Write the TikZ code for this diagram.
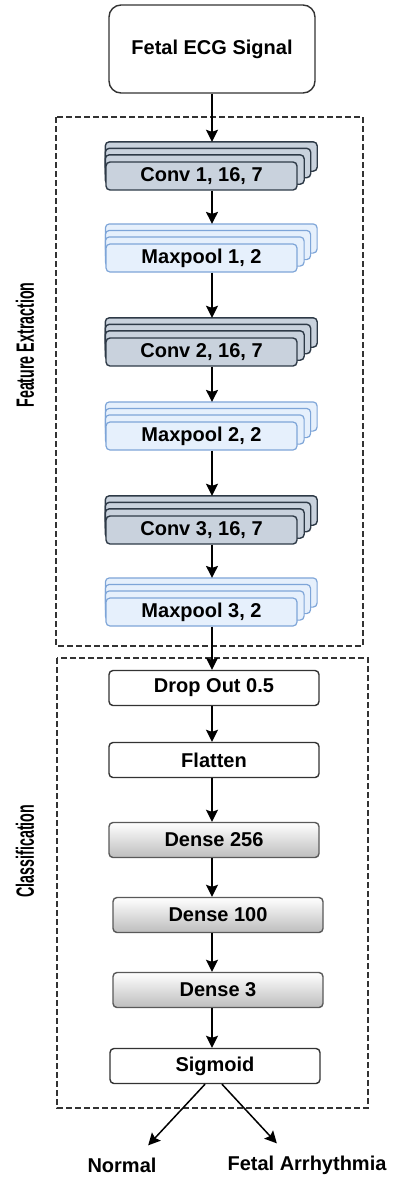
\documentclass[tikz,border=0pt]{standalone}
\usepackage{fontspec}
\setmainfont{Liberation Sans}
\usetikzlibrary{arrows.meta, backgrounds}
\definecolor{cconv}{HTML}{C9D2DD}
\definecolor{cconvline}{HTML}{2E3A47}
\definecolor{cpool}{HTML}{E6F0FC}
\definecolor{cpoolline}{HTML}{7EA5D8}
\definecolor{cdense}{HTML}{BDBDBD}
\definecolor{cline}{HTML}{333333}

% back layers of a stacked block, drawn behind the front node
\newcommand{\stacklayers}[2]{%
  \begin{pgfonlayer}{background}
    \foreach \k in {3,2,1}
      \draw[#2] ([yshift=\k*6.5pt]#1.south west) rectangle ([xshift=\k*6.5pt, yshift=\k*6.5pt]#1.north east);
  \end{pgfonlayer}
  \coordinate (#1top) at ([yshift=19.5pt]#1.north);
}

\begin{document}
\begin{tikzpicture}[x=1pt, y=1pt]
    \useasboundingbox (0,0) rectangle (399,-1179);
    \begin{scope}[
        inputbox/.style={rectangle, draw=cline, line width=1.4pt, rounded corners=12pt, fill=white, minimum width=206pt, minimum height=88pt, font=\fontsize{20}{24}\selectfont\bfseries},
        convbox/.style={rectangle, draw=cconvline, line width=1.4pt, rounded corners=4pt, fill=cconv, minimum width=191pt, minimum height=28pt, font=\fontsize{20}{24}\selectfont\bfseries},
        poolbox/.style={rectangle, draw=cpoolline, line width=1.2pt, rounded corners=4pt, fill=cpool, minimum width=191pt, minimum height=28pt, font=\fontsize{20}{24}\selectfont\bfseries},
        plainbox/.style={rectangle, draw=cline, line width=1.4pt, rounded corners=4pt, fill=white, minimum width=210pt, minimum height=35pt, font=\fontsize{20}{24}\selectfont\bfseries},
        densebox/.style={plainbox, draw=black!65, top color=white, bottom color=cdense},
        sidelabel/.style={rotate=90, font=\fontsize{25}{30}\selectfont\bfseries},
        outlabel/.style={font=\fontsize{20}{24}\selectfont\bfseries},
        frame/.style={draw=cline, line width=1.2pt, dash pattern=on 6pt off 3pt},
        arrow/.style={-{Stealth[length=12pt, width=12pt, inset=2pt]}, line width=1.5pt, draw=black}
    ]
        % ================= input =================
        \node[inputbox] (signal) at (212,-49) {Fetal ECG Signal};

        % ================= feature extraction =================
        \draw[frame] (56,-117) rectangle (363,-646);
        \node[sidelabel] (featlabel) at (25,-345) {\scalebox{0.57}[1]{Feature Extraction}};

        \node[convbox] (conv1) at (201.5,-176) {Conv 1, 16, 7};
        \stacklayers{conv1}{convbox}
        \node[poolbox] (pool1) at (201.5,-258) {Maxpool 1, 2};
        \stacklayers{pool1}{poolbox}
        \node[convbox] (conv2) at (201.5,-352) {Conv 2, 16, 7};
        \stacklayers{conv2}{convbox}
        \node[poolbox] (pool2) at (201.5,-436) {Maxpool 2, 2};
        \stacklayers{pool2}{poolbox}
        \node[convbox] (conv3) at (201.5,-530) {Conv 3, 16, 7};
        \stacklayers{conv3}{convbox}
        \node[poolbox] (pool3) at (201.5,-612) {Maxpool 3, 2};
        \stacklayers{pool3}{poolbox}

        \draw[arrow] (signal.south) -- (conv1top -| signal.south);
        \draw[arrow] (conv1.south -| signal.south) -- (pool1top -| signal.south);
        \draw[arrow] (pool1.south -| signal.south) -- (conv2top -| signal.south);
        \draw[arrow] (conv2.south -| signal.south) -- (pool2top -| signal.south);
        \draw[arrow] (pool2.south -| signal.south) -- (conv3top -| signal.south);
        \draw[arrow] (conv3.south -| signal.south) -- (pool3top -| signal.south);

        % ================= classification =================
        \draw[frame] (57,-658) rectangle (368,-1108);
        \node[sidelabel] (classlabel) at (25,-851) {\scalebox{0.57}[1]{Classification}};

        \node[plainbox] (drop) at (214,-688) {Drop Out 0.5};
        \node[plainbox] (flat) at (214,-760) {Flatten};
        \node[densebox] (dense1) at (214,-840) {Dense 256};
        \node[densebox] (dense2) at (218,-915) {Dense 100};
        \node[densebox] (dense3) at (218,-990) {Dense 3};
        \node[plainbox] (sig) at (215,-1066) {Sigmoid};

        \draw[arrow] (pool3.south -| signal.south) -- (drop.north -| signal.south);
        \draw[arrow] (drop.south -| signal.south) -- (flat.north -| signal.south);
        \draw[arrow] (flat.south -| signal.south) -- (dense1.north -| signal.south);
        \draw[arrow] (dense1.south -| signal.south) -- (dense2.north -| signal.south);
        \draw[arrow] (dense2.south -| signal.south) -- (dense3.north -| signal.south);
        \draw[arrow] (dense3.south -| signal.south) -- (sig.north -| signal.south);

        % ================= outputs =================
        \node[outlabel] (normal) at (122,-1165) {Normal};
        \node[outlabel] (arrhythmia) at (307,-1165) {Fetal Arrhythmia};
        \draw[arrow, shorten >=12pt] ([xshift=-10pt]sig.south) -- ([xshift=18pt]normal.north);
        \draw[arrow, shorten >=12pt] ([xshift=7pt]sig.south) -- ([xshift=-22pt]arrhythmia.north);
    \end{scope}
\end{tikzpicture}
\end{document}
